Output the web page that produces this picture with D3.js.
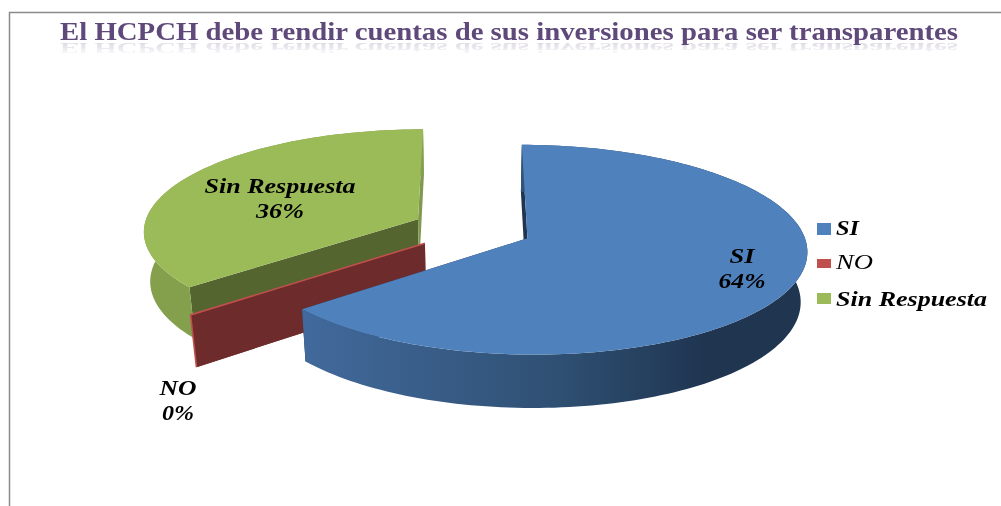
<!DOCTYPE html>
<html>
<head>
<meta charset="utf-8">
<script src="https://cdn.jsdelivr.net/npm/d3@7"></script>
<style>
    html, body { margin: 0; padding: 0; background: #fff; }
    svg { display: block; }
    text { font-family: "Liberation Serif", serif; filter: url(#soft); }
</style>
</head>
<body>
<svg id="chart" width="1001" height="506"></svg>
<script>
const titleText = 'El HCPCH debe rendir cuentas de sus inversiones para ser transparentes',
    categories = ['SI', 'NO', 'Sin Respuesta'],
    values = [64, 0, 36];

// top, start/end faces, outer wall
const colors = ['#4f81bd', '#c0504d', '#9bbb59'],
    startFace = ['#1f3550', '#6d2c2b', '#55652f'],
    endFace = ['#1f3550', '#6d2c2b', '#80994f'],
    outerWall = ['url(#blueWall)', '#c0504d', '#84a04c'];

// label size and place, in pixels: [x, first baseline, label width, percent width]
const labelLayout = [
    [742, 263, 25, 47],
    [178, 395, 37, 32],
    [280, 193, 151, 48]
];
const legendLayout = [
    {y: 223, h: 12, base: 235, w: 23},
    {y: 259, h: 9, base: 269, w: 37},
    {y: 293, h: 11, base: 306, w: 151}
];

// camera of the 3d pie
const xv = 470, yv = 240,
    rx = 278, ry = 104,
    persp = 0.109, drop = 0.02 / 51,
    depth = 51,
    centerX = 0.008, centerY = -0.11,
    explode = 0.22;

const svg = d3.select('#chart');

const defs = svg.append('defs');
defs.append('filter')
    .attr('id', 'soft')
    .attr('x', '-5%').attr('y', '-30%').attr('width', '110%').attr('height', '160%')
    .append('feGaussianBlur')
    .attr('stdDeviation', 0.35);
const blueWall = defs.append('linearGradient')
    .attr('id', 'blueWall')
    .attr('gradientUnits', 'userSpaceOnUse')
    .attr('x1', 308).attr('x2', 808).attr('y1', 0).attr('y2', 0);
blueWall.append('stop').attr('offset', 0).attr('stop-color', '#41699b');
blueWall.append('stop').attr('offset', 0.5).attr('stop-color', '#2f5073');
blueWall.append('stop').attr('offset', 0.8).attr('stop-color', '#1f3550');
blueWall.append('stop').attr('offset', 1).attr('stop-color', '#1f3550');
const fade = defs.append('linearGradient')
    .attr('id', 'titleFade')
    .attr('x1', 0).attr('x2', 0).attr('y1', 0).attr('y2', 1);
fade.append('stop').attr('offset', 0).attr('stop-color', '#5f497a').attr('stop-opacity', 0);
fade.append('stop').attr('offset', 1).attr('stop-color', '#5f497a').attr('stop-opacity', 0.25);

// frame
svg.append('path')
    .attr('d', 'M9.5,506V12.5H1001')
    .attr('fill', 'none')
    .attr('stroke', '#8a8a8a')
    .attr('stroke-width', 1.5);

// title and its reflection
svg.append('text')
    .attr('transform', 'translate(60,42) scale(1,-0.6) translate(-60,-42)')
    .attr('x', 60).attr('y', 40)
    .attr('font-size', 25).attr('font-weight', 'bold')
    .attr('textLength', 898).attr('lengthAdjust', 'spacingAndGlyphs')
    .attr('fill', 'url(#titleFade)')
    .text(titleText);
svg.append('text')
    .attr('x', 60).attr('y', 40)
    .attr('font-size', 25).attr('font-weight', 'bold')
    .attr('textLength', 898).attr('lengthAdjust', 'spacingAndGlyphs')
    .attr('fill', '#5f497a')
    .text(titleText);

const slices = d3.pie().sort(null).startAngle(0).endAngle(2 * Math.PI)(values);

function project(slice, angle, radius, z) {
    const mid = (slice.startAngle + slice.endAngle) / 2,
        px = centerX + explode * Math.sin(mid) + radius * Math.sin(angle),
        py = centerY - explode * Math.cos(mid) - radius * Math.cos(angle),
        s = 1 / (1 - persp * py + drop * z);
    return [xv + rx * px * s, yv + (ry * py + z) * s];
}

function arcPoints(slice, z) {
    const steps = Math.max(1, Math.round((slice.endAngle - slice.startAngle) * 40));
    return d3.range(steps + 1).map((i) =>
        project(slice, slice.startAngle + (slice.endAngle - slice.startAngle) * i / steps, 1, z));
}

function face(slice, angle) {
    return [
        project(slice, angle, 0, 0),
        project(slice, angle, 1, 0),
        project(slice, angle, 1, depth),
        project(slice, angle, 0, depth)
    ];
}

const line = d3.line();
// back to front: green, red, blue
const drawOrder = [2, 1, 0];
for(const i of drawOrder) {
    const slice = slices[i],
        g = svg.append('g').attr('class', 'slice-' + i);

    g.append('path')
        .attr('d', line(face(slice, slice.startAngle)) + 'Z')
        .attr('fill', startFace[i]);
    g.append('path')
        .attr('d', line(face(slice, slice.endAngle)) + 'Z')
        .attr('fill', endFace[i]);

    if(slice.endAngle > slice.startAngle) {
        g.append('path')
            .attr('d', line(arcPoints(slice, 0).concat(arcPoints(slice, depth).reverse())) + 'Z')
            .attr('fill', outerWall[i]);
        g.append('path')
            .attr('d', line([project(slice, 0, 0, 0)].concat(arcPoints(slice, 0))) + 'Z')
            .attr('fill', colors[i]);
    }
    else {
        // a zero slice is only an edge
        g.append('path')
            .attr('d', line([project(slice, slice.startAngle, 0, 0), project(slice, slice.startAngle, 1, 0), project(slice, slice.startAngle, 1, depth)]))
            .attr('fill', 'none')
            .attr('stroke', colors[i])
            .attr('stroke-width', 1.6);
    }
}

// data labels
categories.forEach((name, i) => {
    const [x, y, w, pw] = labelLayout[i];
    svg.append('text')
        .attr('x', x).attr('y', y)
        .attr('text-anchor', 'middle')
        .attr('font-size', 20).attr('font-weight', 'bold').attr('font-style', 'italic')
        .attr('textLength', w).attr('lengthAdjust', 'spacingAndGlyphs')
        .attr('fill', '#000')
        .text(name);
    svg.append('text')
        .attr('x', x).attr('y', y + 25)
        .attr('text-anchor', 'middle')
        .attr('font-size', 20).attr('font-weight', 'bold').attr('font-style', 'italic')
        .attr('textLength', pw).attr('lengthAdjust', 'spacingAndGlyphs')
        .attr('fill', '#000')
        .text(values[i] + '%');
});

// legend
const legend = svg.append('g').attr('class', 'legend');
categories.forEach((name, i) => {
    const l = legendLayout[i];
    legend.append('rect')
        .attr('x', 817).attr('y', l.y)
        .attr('width', 14).attr('height', l.h)
        .attr('fill', colors[i]);
    legend.append('text')
        .attr('x', 836).attr('y', l.base)
        .attr('font-size', 20).attr('font-weight', i === 1 ? 'normal' : 'bold').attr('font-style', 'italic')
        .attr('textLength', l.w).attr('lengthAdjust', 'spacingAndGlyphs')
        .attr('fill', '#000')
        .text(name);
});
</script>
</body>
</html>
